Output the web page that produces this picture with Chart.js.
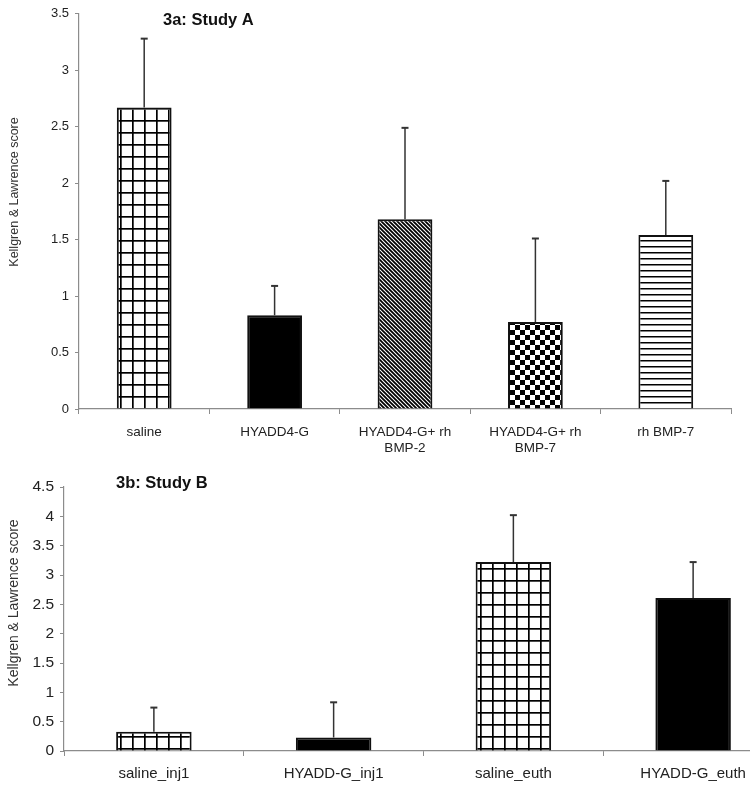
<!DOCTYPE html>
<html>
<head>
<meta charset="utf-8">
<script src="https://cdn.jsdelivr.net/npm/chart.js@4.4.1/dist/chart.umd.min.js"></script>
<style>
  html, body { margin: 0; padding: 0; background: #fff; }
  #wrap { position: relative; width: 750px; height: 788px; overflow: hidden; }
  #chartA { position: absolute; left: 0; top: 0; }
  #chartB { position: absolute; left: 0; top: 460px; }
</style>
</head>
<body>
<div id="wrap">
  <canvas id="chartA" width="750" height="460"></canvas>
  <canvas id="chartB" width="800" height="328"></canvas>
</div>
<script>
// --- data ---
const labelsA = ['saline', 'HYADD4-G', ['HYADD4-G+ rh', 'BMP-2'], ['HYADD4-G+ rh', 'BMP-7'], 'rh BMP-7'];
const meansA = [2.67, 0.83, 1.68, 0.77, 1.54];
const errA = [0.61, 0.26, 0.81, 0.74, 0.48];
const fillsA = ['grid', 'solid', 'diag', 'checker', 'hstripe'];

const labelsB = ['saline_inj1', 'HYADD-G_inj1', 'saline_euth', 'HYADD-G_euth'];
const meansB = [0.33, 0.23, 3.22, 2.61];
const errB = [0.41, 0.60, 0.80, 0.61];
const fillsB = ['grid', 'solid', 'grid', 'solid'];

const ticksA = { min: 0, max: 3.5, step: 0.5 };
const ticksB = { min: 0, max: 4.5, step: 0.5 };

// --- fill patterns ---
function makePattern(type) {
  if (type === 'solid') return '#000';
  const c = document.createElement('canvas');
  const g = c.getContext('2d');
  let s = 12;
  if (type === 'diag') s = 4;
  if (type === 'checker') s = 10;
  if (type === 'hstripe') s = 6;
  c.width = s; c.height = s;
  g.fillStyle = '#fff';
  g.fillRect(0, 0, s, s);
  g.fillStyle = '#000';
  g.strokeStyle = '#000';
  if (type === 'grid') {
    g.fillRect(0, 0, s, 1.7);
    g.fillRect(0, 0, 1.7, s);
  } else if (type === 'diag') {
    g.lineWidth = 1.8;
    g.beginPath();
    g.moveTo(-1, -1); g.lineTo(s + 1, s + 1);
    g.moveTo(-1, s - 1); g.lineTo(1, s + 1);
    g.moveTo(s - 1, -1); g.lineTo(s + 1, 1);
    g.stroke();
  } else if (type === 'checker') {
    g.fillRect(0, 0, s / 2, s / 2);
    g.fillRect(s / 2, s / 2, s / 2, s / 2);
  } else if (type === 'hstripe') {
    g.fillRect(0, 0, s, 1.5);
  }
  return g.createPattern(c, 'repeat');
}

// error bars (upper only) drawn through the y scale
const errorBars = {
  id: 'errorBars',
  afterDatasetsDraw(chart, args, opts) {
    const ctx = chart.ctx, y = chart.scales.y;
    const meta = chart.getDatasetMeta(0);
    const vals = chart.data.datasets[0].data;
    ctx.save();
    ctx.strokeStyle = '#333';
    meta.data.forEach((bar, i) => {
      const top = y.getPixelForValue(vals[i] + opts.errors[i]);
      const base = y.getPixelForValue(vals[i]);
      ctx.lineWidth = 1.5;
      ctx.beginPath();
      ctx.moveTo(bar.x, base);
      ctx.lineTo(bar.x, top);
      ctx.stroke();
      ctx.lineWidth = 2;
      ctx.beginPath();
      ctx.moveTo(bar.x - 3.5, top);
      ctx.lineTo(bar.x + 3.5, top);
      ctx.stroke();
    });
    ctx.restore();
  }
};

// chart title + y axis title
const texts = {
  id: 'texts',
  afterDraw(chart, args, opts) {
    const ctx = chart.ctx;
    ctx.save();
    ctx.fillStyle = '#111';
    ctx.font = 'bold 16.5px "Liberation Sans", Arial, sans-serif';
    ctx.textBaseline = 'alphabetic';
    ctx.textAlign = 'left';
    ctx.fillText(opts.title, opts.titleX, opts.titleY);
    ctx.fillStyle = '#333';
    ctx.font = opts.yFont + 'px "Liberation Sans", Arial, sans-serif';
    ctx.translate(opts.yX, opts.yY);
    ctx.rotate(-Math.PI / 2);
    ctx.textAlign = 'center';
    ctx.textBaseline = 'middle';
    ctx.fillText('Kellgren & Lawrence score', 0, 0);
    ctx.restore();
  }
};

function makeChart(id, labels, means, errs, fills, tk, cfg) {
  return new Chart(document.getElementById(id), {
    type: 'bar',
    data: {
      labels: labels,
      datasets: [{
        data: means,
        backgroundColor: fills.map(makePattern),
        borderColor: '#111',
        borderWidth: 2,
        categoryPercentage: 1,
        barPercentage: 0.42
      }]
    },
    options: {
      responsive: false,
      animation: false,
      devicePixelRatio: 1,
      layout: { padding: { top: cfg.top, right: cfg.right, left: 0, bottom: 0 } },
      plugins: {
        legend: { display: false },
        tooltip: { enabled: false },
        errorBars: { errors: errs },
        texts: cfg.texts
      },
      scales: {
        x: {
          afterFit: s => { s.height = cfg.xh; },
          border: { color: '#8c8c8c', width: 1.2 },
          grid: { offset: true, drawOnChartArea: false, color: '#8c8c8c', tickLength: 5 },
          ticks: {
            color: '#222', padding: cfg.xpad, maxRotation: 0, autoSkip: false,
            font: { family: '"Liberation Sans", Arial, sans-serif', size: cfg.xFont, lineHeight: 1.2 }
          }
        },
        y: {
          min: tk.min, max: tk.max,
          afterFit: s => { s.width = cfg.yw; },
          border: { color: '#8c8c8c', width: 1.2 },
          grid: { drawOnChartArea: false, color: '#8c8c8c', tickLength: 4 },
          ticks: {
            stepSize: tk.step, color: '#222', padding: 6,
            callback: v => String(v),
            font: { family: '"Liberation Sans", Arial, sans-serif', size: cfg.yFont }
          }
        }
      }
    },
    plugins: [errorBars, texts]
  });
}

makeChart('chartA', labelsA, meansA, errA, fillsA, ticksA, {
  top: 13, right: 19, xh: 51, yw: 79, xpad: 10, xFont: 13.5, yFont: 13,
  texts: { title: '3a: Study A', titleX: 163, titleY: 25, yFont: 12.5, yX: 15, yY: 192 }
});

makeChart('chartB', labelsB, meansB, errB, fillsB, ticksB, {
  top: 27, right: 17, xh: 37, yw: 64, xpad: 9, xFont: 15, yFont: 15.5,
  texts: { title: '3b: Study B', titleX: 116, titleY: 28, yFont: 14, yX: 14, yY: 143 }
});
</script>
</body>
</html>
